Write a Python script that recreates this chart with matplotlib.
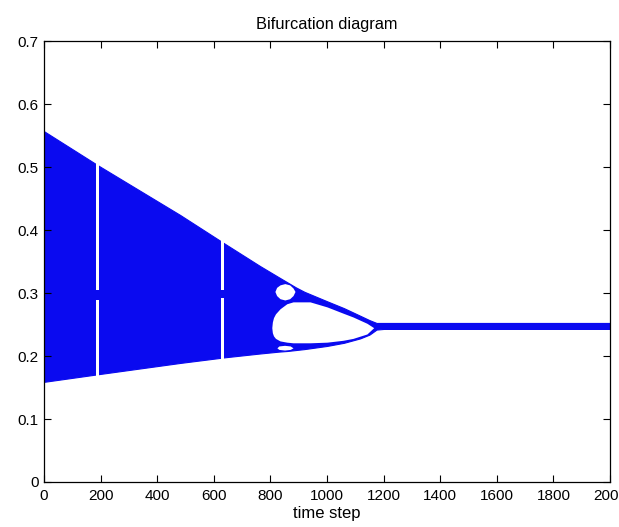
import numpy as np
import matplotlib.pyplot as plt

# outer envelope of the attractor
t_outer = [0, 190, 481, 640, 763, 830, 860, 890, 920, 1000, 1060, 1117, 1150, 1175, 1200, 2000]
upper   = [0.557, 0.503, 0.424, 0.378, 0.343, 0.325, 0.317, 0.309, 0.302, 0.287, 0.276, 0.264, 0.257, 0.2525, 0.2525, 0.2525]
lower   = [0.159, 0.171, 0.189, 0.198, 0.204, 0.207, 0.208, 0.2095, 0.211, 0.216, 0.221, 0.228, 0.234, 0.242, 0.243, 0.243]

# big period-2 loop (white inside)
t_big   = [805, 807, 811, 818, 834, 858, 880, 940, 1000, 1057, 1092, 1141, 1165]
big_top = [0.245, 0.254, 0.261, 0.267, 0.275, 0.283, 0.286, 0.286, 0.278, 0.268, 0.262, 0.252, 0.245]
big_bot = [0.245, 0.237, 0.232, 0.228, 0.224, 0.222, 0.221, 0.221, 0.222, 0.225, 0.228, 0.235, 0.245]

# small loops near t = 850
t_small   = [816, 822, 834, 851, 868, 880, 887]
small_top = [0.3025, 0.309, 0.313, 0.315, 0.313, 0.308, 0.3025]
small_bot = [0.3025, 0.296, 0.291, 0.289, 0.291, 0.296, 0.3025]
t_low     = [823, 830, 850, 870, 880]
low_top   = [0.213, 0.216, 0.217, 0.216, 0.213]
low_bot   = [0.213, 0.2105, 0.2095, 0.2105, 0.213]

# periodic windows (white stripes), a small blue bit left near 0.29-0.30
win_t  = [[184, 195], [626, 637]]
win_lo = [[0.155, 0.305], [0.190, 0.305]]
win_hi = [[0.289, 0.515], [0.292, 0.392]]

blue = '#0a0af0'
plt.rcParams['font.family'] = ['Liberation Sans', 'DejaVu Sans']

fig = plt.figure(figsize=(6.19, 5.27), dpi=100)
ax = fig.add_axes([0.071, 0.0854, 0.9145, 0.8366])

ax.fill_between(t_outer, lower, upper, color=blue, lw=0.8, edgecolor=blue)
ax.fill_between(t_big, big_bot, big_top, color='white', lw=0)
ax.fill_between(t_small, small_bot, small_top, color='white', lw=0)
ax.fill_between(t_low, low_bot, low_top, color='white', lw=0)
for tt, lo, hi in zip(win_t, win_lo, win_hi):
    for a, b in zip(lo, hi):
        ax.fill_between(tt, [a, a], [b, b], color='white', lw=0)

ax.set_xlim(0, 2000)
ax.set_ylim(0, 0.7)
ax.set_xticks(np.arange(0, 2001, 200))
ax.set_yticks(np.arange(0, 0.71, 0.1))
ax.set_yticklabels(['0', '0.1', '0.2', '0.3', '0.4', '0.5', '0.6', '0.7'])
ax.tick_params(direction='in', top=True, right=True, length=5, width=0.8, labelsize=11)
ax.tick_params(axis='x', pad=5)
ax.tick_params(axis='y', pad=4)
for s in ax.spines.values():
    s.set_linewidth(0.9)
ax.set_title('Bifurcation diagram', fontsize=11.8, pad=9)
ax.set_xlabel('time step', fontsize=12, labelpad=2)

fig.savefig('out.png', dpi=100)
